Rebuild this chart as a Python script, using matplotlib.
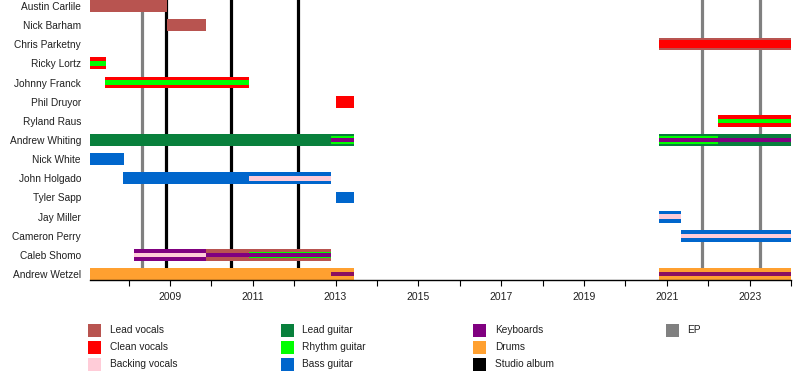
import matplotlib.pyplot as plt
from matplotlib.patches import Rectangle

plt.rcParams['font.family'] = ['Liberation Sans', 'DejaVu Sans']

members = ["Austin Carlile", "Nick Barham", "Chris Parketny", "Ricky Lortz",
           "Johnny Franck", "Phil Druyor", "Ryland Raus", "Andrew Whiting",
           "Nick White", "John Holgado", "Tyler Sapp", "Jay Miller",
           "Cameron Perry", "Caleb Shomo", "Andrew Wetzel"]

role_colors = {
    "Lead vocals": "#b85450",
    "Clean vocals": "#ff0000",
    "Backing vocals": "#ffccd8",
    "Lead guitar": "#08803c",
    "Rhythm guitar": "#00ff00",
    "Bass guitar": "#0066cc",
    "Keyboards": "#800080",
    "Drums": "#ffa030",
    "Programming": "#8b1060",
}

# (member, start, end, roles from outer to inner)
periods = [
    ("Austin Carlile", 2007.07, 2008.93, ["Lead vocals"]),
    ("Nick Barham", 2008.93, 2009.86, ["Lead vocals"]),
    ("Chris Parketny", 2020.8, 2024.0, ["Lead vocals", "Clean vocals"]),
    ("Ricky Lortz", 2007.07, 2007.45, ["Clean vocals", "Rhythm guitar"]),
    ("Johnny Franck", 2007.43, 2010.9, ["Clean vocals", "Rhythm guitar"]),
    ("Phil Druyor", 2013.0, 2013.45, ["Clean vocals"]),
    ("Ryland Raus", 2022.23, 2024.0, ["Clean vocals", "Rhythm guitar"]),
    ("Andrew Whiting", 2007.07, 2012.88, ["Lead guitar"]),
    ("Andrew Whiting", 2012.88, 2013.45, ["Lead guitar", "Rhythm guitar", "Keyboards"]),
    ("Andrew Whiting", 2020.8, 2022.23, ["Lead guitar", "Rhythm guitar", "Keyboards"]),
    ("Andrew Whiting", 2022.23, 2024.0, ["Lead guitar", "Keyboards"]),
    ("Nick White", 2007.07, 2007.89, ["Bass guitar"]),
    ("John Holgado", 2007.87, 2010.9, ["Bass guitar"]),
    ("John Holgado", 2010.9, 2012.9, ["Bass guitar", "Backing vocals"]),
    ("Tyler Sapp", 2013.0, 2013.45, ["Bass guitar"]),
    ("Jay Miller", 2020.8, 2021.35, ["Bass guitar", "Backing vocals"]),
    ("Cameron Perry", 2021.35, 2024.0, ["Bass guitar", "Backing vocals"]),
    ("Caleb Shomo", 2008.13, 2009.86, ["Keyboards", "Backing vocals"]),
    ("Caleb Shomo", 2009.86, 2010.9, ["Lead vocals", "Keyboards"]),
    ("Caleb Shomo", 2010.9, 2012.9, ["Lead vocals", "Rhythm guitar", "Keyboards"]),
    ("Andrew Wetzel", 2007.07, 2012.88, ["Drums"]),
    ("Andrew Wetzel", 2012.88, 2013.45, ["Drums", "Programming"]),
    ("Andrew Wetzel", 2020.8, 2024.0, ["Drums", "Programming"]),
]

studio_albums = [2008.9, 2010.47, 2012.09]
eps = [2008.32, 2021.85, 2023.25]

legend_items = ["Lead vocals", "Clean vocals", "Backing vocals",
                "Lead guitar", "Rhythm guitar", "Bass guitar",
                "Keyboards", "Drums", "Studio album", "EP"]
legend_colors = {"Studio album": "#000000", "EP": "#808080"}


def layer_heights(member, n):
    if member == "Chris Parketny":
        return [0.62, 0.4]
    if member == "Caleb Shomo" and n == 3:
        return [0.62, 0.28, 0.21]
    return {1: [0.62], 2: [0.62, 0.23], 3: [0.62, 0.38, 0.17]}[n]


fig = plt.figure(figsize=(8, 3.8), dpi=100)
ax = fig.add_axes([90 / 800, 1 - 280 / 380, 701 / 800, 280 / 380])

for x in studio_albums:
    ax.axvline(x, color="black", lw=2.3, zorder=1)
for x in eps:
    ax.axvline(x, color="#808080", lw=2.3, zorder=1)

for member, start, end, roles in periods:
    y = members.index(member)
    hs = layer_heights(member, len(roles))
    for k, (role, h) in enumerate(zip(roles, hs)):
        ax.add_patch(Rectangle((start, y - h / 2), end - start, h,
                               facecolor=role_colors[role], edgecolor="none",
                               zorder=2 + k))

ax.set_xlim(2007.07, 2024.0)
ax.set_ylim(len(members) - 0.69, -0.31)
ax.set_yticks(range(len(members)))
ax.set_yticklabels(members, fontsize=7.3, color="#202020")
ax.tick_params(axis="y", length=0, pad=6.5)

ax.set_xticks(range(2008, 2025))
ax.set_xticklabels([str(y) if y % 2 == 1 else "" for y in range(2008, 2025)],
                   fontsize=7.5, color="#202020")
ax.tick_params(axis="x", length=4, width=0.8, pad=5)

for s in ["top", "right", "left"]:
    ax.spines[s].set_visible(False)
ax.spines["bottom"].set_linewidth(1.0)

# manual legend, column-major like the original
for k, label in enumerate(legend_items):
    col, row = k // 3, k % 3
    px = 88 + 192.5 * col
    py = 330 + 17.2 * row
    color = role_colors.get(label, legend_colors.get(label))
    fig.add_artist(Rectangle((px / 800, 1 - (py + 6.5) / 380), 13 / 800, 13 / 380,
                             transform=fig.transFigure, facecolor=color,
                             edgecolor="none"))
    fig.text((px + 22) / 800, 1 - py / 380, label, fontsize=7.3, va="center",
             ha="left", color="#202020")

fig.savefig("out.png", dpi=100)
